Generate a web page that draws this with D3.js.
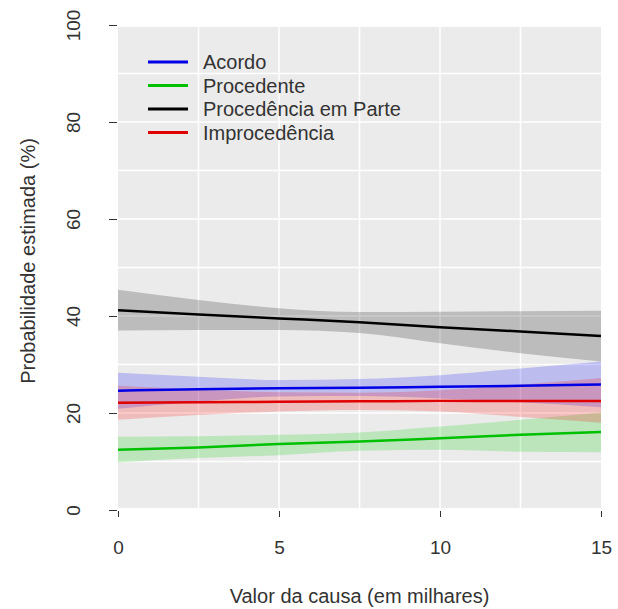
<!DOCTYPE html>
<html>
<head>
<meta charset="utf-8">
<script src="https://cdn.jsdelivr.net/npm/d3@7"></script>
<style>
  body { margin: 0; background: #fff; }
  text { font-family: "Liberation Sans", Arial, sans-serif; fill: #333; }
</style>
</head>
<body>
<script>
const W = 618, H = 609;

// valor da causa (milhares)
const xs = [0, 2.5, 5, 7.5, 10, 12.5, 15];

const acordo      = [24.6, 24.9, 25.1, 25.2, 25.4, 25.6, 25.9];
const acordoLo    = [20.9, 22.3, 23.4, 23.5, 23.0, 22.2, 21.2];
const acordoHi    = [28.3, 27.5, 26.8, 27.0, 27.8, 29.2, 30.6];

const procedente   = [12.4, 12.9, 13.6, 14.1, 14.8, 15.5, 16.1];
const procedenteLo = [9.8, 10.7, 11.3, 12.2, 12.4, 12.0, 11.9];
const procedenteHi = [15.1, 15.2, 15.5, 16.0, 17.2, 18.6, 20.1];

const emParte   = [41.2, 40.3, 39.5, 38.7, 37.7, 36.8, 35.9];
const emParteLo = [37.0, 37.1, 37.1, 36.5, 34.4, 32.3, 30.6];
const emParteHi = [45.4, 43.3, 41.6, 40.8, 40.9, 41.0, 41.1];

const improc   = [22.1, 22.2, 22.3, 22.4, 22.5, 22.5, 22.5];
const improcLo = [18.6, 19.6, 20.3, 20.6, 20.3, 19.2, 18.0];
const improcHi = [25.6, 24.8, 24.3, 24.2, 24.7, 25.8, 27.2];

const xTicks = [0, 5, 10, 15];
const yTicks = [0, 20, 40, 60, 80, 100];
const xGrid = [2.5, 5, 7.5, 10, 12.5];
const yGrid = [10, 20, 30, 40, 50, 60, 70, 80, 90];

const series = [
  { name: 'Acordo', mid: acordo, lo: acordoLo, hi: acordoHi, color: '#0000e6', fill: 'rgba(0,0,255,0.2)' },
  { name: 'Procedente', mid: procedente, lo: procedenteLo, hi: procedenteHi, color: '#00c000', fill: 'rgba(0,205,0,0.2)' },
  { name: 'Procedência em Parte', mid: emParte, lo: emParteLo, hi: emParteHi, color: '#000000', fill: 'rgba(0,0,0,0.2)' },
  { name: 'Improcedência', mid: improc, lo: improcLo, hi: improcHi, color: '#e00000', fill: 'rgba(255,0,0,0.2)' }
];

const x = d3.scaleLinear().domain([0, 15]).range([118, 601]);
const y = d3.scaleLinear().domain([0, 100]).range([510, 25]);

const svg = d3.select('body').append('svg')
    .attr('width', W)
    .attr('height', H);

// panel
svg.append('rect')
    .attr('x', x(0)).attr('y', y(99.6))
    .attr('width', x(15) - x(0)).attr('height', y(0.4) - y(99.6))
    .attr('fill', '#ebebeb');

const grid = svg.append('g').attr('stroke', '#fff').attr('stroke-width', 1.5);
grid.selectAll('line.gx').data(xGrid).enter().append('line')
    .attr('x1', d => x(d)).attr('x2', d => x(d))
    .attr('y1', y(99.6)).attr('y2', y(0.4));
grid.selectAll('line.gy').data(yGrid).enter().append('line')
    .attr('x1', x(0)).attr('x2', x(15))
    .attr('y1', d => y(d)).attr('y2', d => y(d));

const area = d3.area()
    .x(d => x(d.x)).y0(d => y(d.lo)).y1(d => y(d.hi))
    .curve(d3.curveMonotoneX);
const line = d3.line()
    .x(d => x(d.x)).y(d => y(d.v))
    .curve(d3.curveMonotoneX);

svg.append('g').selectAll('path')
    .data(series).enter().append('path')
      .attr('d', s => area(xs.map((v, i) => ({ x: v, lo: s.lo[i], hi: s.hi[i] }))))
      .attr('fill', s => s.fill);

svg.append('g').selectAll('path')
    .data(series).enter().append('path')
      .attr('d', s => line(xs.map((v, i) => ({ x: v, v: s.mid[i] }))))
      .attr('fill', 'none')
      .attr('stroke', s => s.color)
      .attr('stroke-width', 2.5);

// axes
const xAxis = svg.append('g')
    .attr('transform', `translate(0,511)`)
    .call(d3.axisBottom(x).tickValues(xTicks).tickSize(6).tickPadding(24).tickFormat(d3.format('d')));
const yAxis = svg.append('g')
    .attr('transform', `translate(117,0)`)
    .call(d3.axisLeft(y).tickValues(yTicks).tickSize(8).tickPadding(0).tickFormat(d3.format('d')));

[xAxis, yAxis].forEach(a => {
  a.select('.domain').remove();
  a.selectAll('.tick line').attr('stroke', '#333').attr('stroke-width', 1);
  a.selectAll('text').attr('font-size', 19).attr('fill', '#333')
      .style('font-family', '"Liberation Sans", Arial, sans-serif');
});

yAxis.selectAll('.tick text')
    .attr('x', 0).attr('dy', null)
    .attr('text-anchor', 'middle')
    .attr('transform', 'translate(-44,0) rotate(-90)')
    .attr('y', 0).attr('dy', '0.35em');

svg.append('text')
    .attr('x', x(7.5)).attr('y', 603)
    .attr('text-anchor', 'middle').attr('font-size', 20)
    .text('Valor da causa (em milhares)');

svg.append('text')
    .attr('transform', `translate(35,261) rotate(-90)`)
    .attr('text-anchor', 'middle').attr('font-size', 20)
    .text('Probabilidade estimada (%)');

// legend
const legend = svg.append('g').selectAll('g')
    .data(series).enter().append('g')
      .attr('transform', (d, i) => `translate(148,${62 + i * 23.5})`);
legend.append('line')
    .attr('x1', 0).attr('x2', 40)
    .attr('stroke', d => d.color).attr('stroke-width', 3);
legend.append('text')
    .attr('x', 55).attr('dy', '0.35em')
    .attr('font-size', 20)
    .text(d => d.name);
</script>
</body>
</html>
